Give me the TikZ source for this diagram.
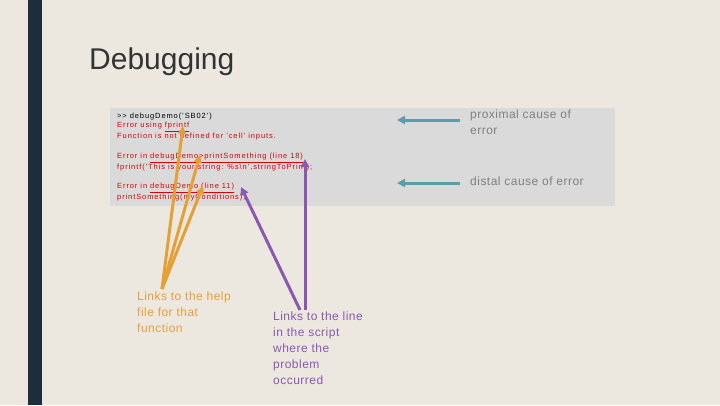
\documentclass[tikz,border=0pt]{standalone}
\usepackage{fontspec}
\setmainfont{Liberation Sans}
\usetikzlibrary{arrows.meta}
\definecolor{orng}{RGB}{228,160,55}
\definecolor{purp}{RGB}{138,88,176}
\definecolor{tl}{RGB}{90,158,174}
\begin{document}
\begin{tikzpicture}[x=1pt,y=-1pt,
  code/.style={anchor=west,inner sep=0pt,font=\addfontfeatures{LetterSpace=12}\fontsize{7.5}{8}\selectfont},
  err/.style={code,text=red!85!black},
  lab/.style={anchor=north west,inner sep=0pt,align=left,font=\addfontfeatures{LetterSpace=4}\fontsize{12}{16}\selectfont},
  orar/.style={draw=orng,line width=3pt,-{Triangle[length=8pt,width=8pt]}},
  purar/.style={draw=purp,line width=3pt,-{Triangle[length=8pt,width=8pt]}},
  tealar/.style={draw=tl,line width=3pt,-{Triangle[length=8pt,width=8pt]}}]
\useasboundingbox (0,0) rectangle (720,405);
\fill[fill={rgb,255:red,236;green,232;blue,223}] (0,0) rectangle (720,405);
\fill[fill={rgb,255:red,28;green,45;blue,60}] (28,0) rectangle (42,405);
\node[anchor=west,inner sep=0pt,font=\fontsize{30}{34}\selectfont,text=black!80] (title) at (89,62) {Debugging};
\fill[fill={rgb,255:red,218;green,218;blue,218}] (110,108) rectangle (615,206);
\node[code] (c1) at (117,117) {>{}> debugDemo('SB02')};
\node[err] (c2) at (117,127) {Error using \underline{fprintf}};
\node[err] (c3) at (117,137) {Function is not defined for 'cell' inputs.};
\node[err] (c4) at (117,158) {Error in \underline{debugDemo>printSomething (line 18)}};
\node[err] (c5) at (117,168) {fprintf('This is your string: \%s\textbackslash n',stringToPrint);};
\node[err] (c6) at (117,188) {Error in \underline{debugDemo (line 11)}};
\node[err] (c7) at (117,198) {printSomething(myConditions);};
\node[lab,text=gray] (prox) at (470,110) {proximal cause of\\error};
\node[lab,text=gray] (dist) at (470,177) {distal cause of error};
\node[lab,text=orng] (help) at (137,292) {Links to the help\\file for that\\function};
\node[lab,text=purp] (line) at (273,312) {Links to the line\\in the script\\where the\\problem\\occurred};
\coordinate (ob) at (162,289);
\coordinate (t1) at (183,126);
\coordinate (t2) at (200,155);
\coordinate (t3) at (203,186);
\draw[orar] (ob) -- (t1);
\draw[orar] (ob) -- (t2);
\draw[orar] (ob) -- (t3);
\coordinate (pb1) at (300,310);
\coordinate (pt1) at (241,187);
\coordinate (pb2) at (305,310);
\coordinate (pt2) at (305,159);
\draw[purar] (pb1) -- (pt1);
\draw[purar] (pb2) -- (pt2);
\coordinate (a1) at (460,120);
\coordinate (b1) at (397,120);
\coordinate (a2) at (460,183);
\coordinate (b2) at (397,183);
\draw[tealar] (a1) -- (b1);
\draw[tealar] (a2) -- (b2);
\end{tikzpicture}
\end{document}
